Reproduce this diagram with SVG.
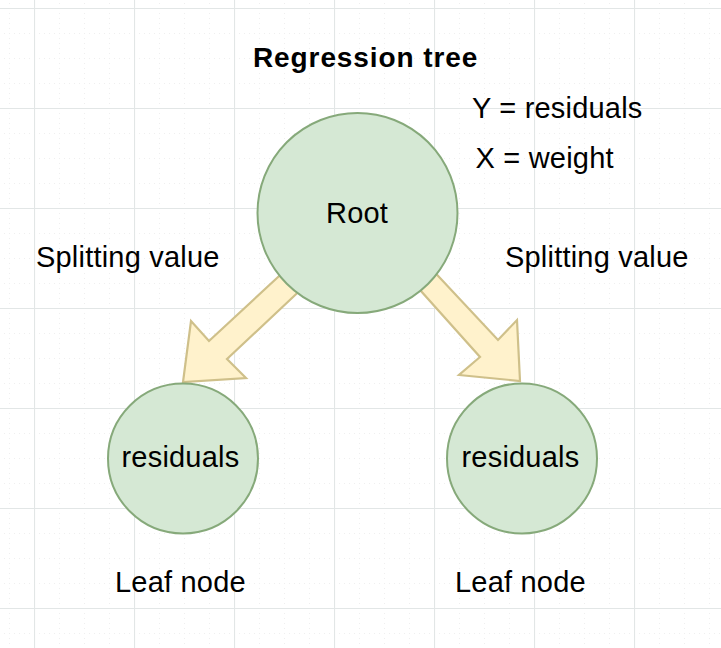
<svg xmlns="http://www.w3.org/2000/svg" width="721" height="648" viewBox="0 0 721 648">
  <defs>
    <pattern id="minor" x="9" y="8" width="25" height="25" patternUnits="userSpaceOnUse">
      <path d="M0 0.5 H25 M0.5 0 V25" fill="none" stroke="#efefef" stroke-width="1" stroke-dasharray="1 4"/>
    </pattern>
    <pattern id="major" x="34" y="8" width="100" height="100" patternUnits="userSpaceOnUse">
      <path d="M0 0.5 H100 M0.5 0 V100" fill="none" stroke="#e2e6e6" stroke-width="1.2"/>
    </pattern>
  </defs>
  <style>
    .node { fill: #d5e8d4; stroke: #86a97a; stroke-width: 2; }
    .arrow { fill: #fff2cc; stroke: #cfc08a; stroke-width: 2.2; stroke-linejoin: miter; }
    text { font-family: "Liberation Sans", Arial, sans-serif; fill: #000; }
    .lbl { font-size: 29px; letter-spacing: 0.2px; }
    .title { font-size: 28px; font-weight: bold; letter-spacing: 0.9px; }
  </style>
  <rect width="721" height="648" fill="#ffffff"/>
  <rect width="721" height="648" fill="url(#minor)"/>
  <rect width="721" height="648" fill="url(#major)"/>

  <g id="connectors">
    <polygon id="arrow-left" class="arrow" points="284,271.5 209,341 191,321 183,382 246,378 227,359 301,289.5"/>
    <polygon id="arrow-right" class="arrow" points="433.5,271 498,340 517,320 520,381 459,375 480,357 416.5,286"/>
  </g>

  <g id="root">
    <circle class="node" cx="357.5" cy="213" r="100"/>
    <text class="lbl" x="326" y="223">Root</text>
  </g>
  <g id="leaf-left">
    <circle class="node" cx="183" cy="458.5" r="75"/>
    <text class="lbl" x="121.5" y="467">residuals</text>
  </g>
  <g id="leaf-right">
    <circle class="node" cx="522" cy="458.5" r="75"/>
    <text class="lbl" x="461.5" y="467">residuals</text>
  </g>

  <g id="labels">
    <text class="title" x="253" y="67">Regression tree</text>
    <text class="lbl" x="472" y="118">Y = residuals</text>
    <text class="lbl" x="475.5" y="168">X = weight</text>
    <text class="lbl" x="36" y="267">Splitting value</text>
    <text class="lbl" x="505" y="267">Splitting value</text>
    <text class="lbl" x="115" y="592">Leaf node</text>
    <text class="lbl" x="455" y="592">Leaf node</text>
  </g>
</svg>
